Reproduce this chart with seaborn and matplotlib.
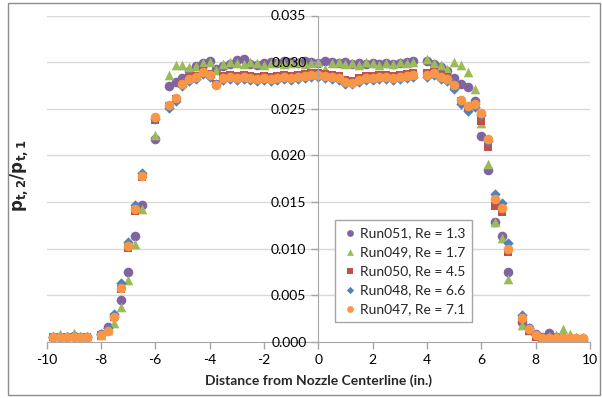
import numpy as np
import pandas as pd
import matplotlib
matplotlib.use('Agg')
import matplotlib.pyplot as plt
import seaborn as sns
from matplotlib.patches import Rectangle

sns.set_style('white')
plt.rcParams['font.family'] = ['Lato', 'DejaVu Sans']

## data
x = [-9.75, -9.5, -9.25, -9.0, -8.75, -8.5,
     -8.0, -7.75, -7.5, -7.25, -7.0, -6.75, -6.5,
     -6.0,
     -5.5, -5.25, -5.0, -4.75, -4.5, -4.25, -4.0, -3.75,
     -3.5, -3.25, -3.0, -2.75, -2.5, -2.25, -2.0, -1.75, -1.5, -1.25, -1.0, -0.75, -0.5, -0.25,
     0.0, 0.25, 0.5, 0.75, 1.0, 1.25, 1.5, 1.75, 2.0, 2.25, 2.5, 2.75, 3.0, 3.25, 3.5,
     4.0, 4.25, 4.5, 4.75, 5.0, 5.25, 5.5, 5.75, 6.0, 6.25, 6.5, 6.75, 7.0,
     7.5, 7.75, 8.0, 8.25, 8.5, 8.75, 9.0, 9.25, 9.5, 9.75]

run051 = [0.0005, 0.0005, 0.0005, 0.0006, 0.0005, 0.0005,
          0.0008, 0.0016, 0.0028, 0.0045, 0.0075, 0.0113, 0.0147,
          0.0217,
          0.0274, 0.0279, 0.0283, 0.0290, 0.0296, 0.0299, 0.0301, 0.0293,
          0.0296, 0.0298, 0.0302, 0.0303, 0.0298, 0.0297, 0.0299, 0.0300, 0.0299, 0.0301, 0.0300, 0.0299, 0.0301, 0.0300,
          0.0299, 0.0301, 0.0300, 0.0299, 0.0300, 0.0298, 0.0299, 0.0298, 0.0299, 0.0298, 0.0299, 0.0298, 0.0299, 0.0300, 0.0301,
          0.0301, 0.0298, 0.0295, 0.0290, 0.0283, 0.0276, 0.0273, 0.0258, 0.0221, 0.0184, 0.0128, 0.0113, 0.0075,
          0.0021, 0.0015, 0.0008, 0.0005, 0.0009, 0.0005, 0.0004, 0.0004, 0.0003, 0.0001]

run049 = [0.0006, 0.0008, 0.0006, 0.0009, 0.0006, 0.0006,
          0.0007, 0.0013, 0.0020, 0.0037, 0.0066, 0.0105, 0.0142,
          0.0222,
          0.0286, 0.0297, 0.0297, 0.0295, 0.0296, 0.0299, 0.0300, 0.0291,
          0.0298, 0.0300, 0.0299, 0.0298, 0.0300, 0.0299, 0.0297, 0.0299, 0.0300, 0.0298, 0.0299, 0.0300, 0.0298, 0.0299,
          0.0300, 0.0293, 0.0299, 0.0300, 0.0298, 0.0299, 0.0297, 0.0300, 0.0299, 0.0297, 0.0299, 0.0298, 0.0300, 0.0299, 0.0300,
          0.0303, 0.0299, 0.0297, 0.0293, 0.0300, 0.0297, 0.0289, 0.0271, 0.0235, 0.0191, 0.0128, 0.0111, 0.0067,
          0.0018, 0.0013, 0.0007, 0.0005, 0.0006, 0.0007, 0.0014, 0.0008, 0.0005, 0.0004]

run050 = [0.0005, 0.0005, 0.0005, 0.0005, 0.0005, 0.0005,
          0.0007, 0.0013, 0.0026, 0.0057, 0.0101, 0.0140, 0.0177,
          0.0238,
          0.0253, 0.0260, 0.0276, 0.0283, 0.0285, 0.0290, 0.0287, 0.0276,
          0.0285, 0.0286, 0.0285, 0.0286, 0.0285, 0.0284, 0.0285, 0.0284, 0.0285, 0.0286, 0.0285, 0.0286, 0.0287, 0.0288,
          0.0288, 0.0287, 0.0286, 0.0285, 0.0281, 0.0280, 0.0283, 0.0285, 0.0285, 0.0286, 0.0286, 0.0285, 0.0286, 0.0287, 0.0288,
          0.0288, 0.0289, 0.0286, 0.0284, 0.0274, 0.0258, 0.0251, 0.0254, 0.0237, 0.0209, 0.0146, 0.0139, 0.0096,
          0.0024, 0.0012, 0.0005, 0.0003, 0.0003, 0.0003, 0.0003, 0.0003, 0.0003, 0.0003]

run048 = [0.0005, 0.0005, 0.0005, 0.0005, 0.0005, 0.0005,
          0.0008, 0.0015, 0.0030, 0.0063, 0.0107, 0.0147, 0.0181,
          0.0239,
          0.0251, 0.0258, 0.0274, 0.0280, 0.0282, 0.0287, 0.0284, 0.0276,
          0.0281, 0.0282, 0.0281, 0.0282, 0.0281, 0.0280, 0.0281, 0.0280, 0.0281, 0.0282, 0.0281, 0.0282, 0.0283, 0.0284,
          0.0284, 0.0283, 0.0282, 0.0281, 0.0277, 0.0276, 0.0279, 0.0281, 0.0281, 0.0282, 0.0282, 0.0281, 0.0282, 0.0283, 0.0284,
          0.0284, 0.0286, 0.0282, 0.0280, 0.0271, 0.0255, 0.0247, 0.0252, 0.0243, 0.0215, 0.0158, 0.0149, 0.0106,
          0.0029, 0.0015, 0.0007, 0.0004, 0.0004, 0.0004, 0.0004, 0.0004, 0.0004, 0.0004]

run047 = [0.0005, 0.0005, 0.0005, 0.0005, 0.0005, 0.0005,
          0.0007, 0.0012, 0.0027, 0.0058, 0.0103, 0.0142, 0.0178,
          0.0241,
          0.0254, 0.0261, 0.0277, 0.0282, 0.0284, 0.0289, 0.0286, 0.0275,
          0.0283, 0.0284, 0.0283, 0.0284, 0.0283, 0.0282, 0.0283, 0.0282, 0.0283, 0.0284, 0.0283, 0.0284, 0.0285, 0.0286,
          0.0286, 0.0285, 0.0284, 0.0283, 0.0279, 0.0278, 0.0281, 0.0283, 0.0283, 0.0284, 0.0284, 0.0283, 0.0284, 0.0285, 0.0286,
          0.0286, 0.0288, 0.0284, 0.0282, 0.0275, 0.0259, 0.0253, 0.0255, 0.0245, 0.0218, 0.0153, 0.0143, 0.0100,
          0.0025, 0.0014, 0.0007, 0.0004, 0.0004, 0.0004, 0.0004, 0.0004, 0.0004, 0.0004]

labels = ['Run051, Re = 1.3', 'Run049, Re = 1.7', 'Run050, Re = 4.5',
          'Run048, Re = 6.6', 'Run047, Re = 7.1']
colors = ['#8064A2', '#9BBB59', '#C0504D', '#4F81BD', '#F79646']
markers = ['o', '^', 's', 'D', 'o']
sizes = [48, 48, 40, 28, 48]

x_ticks = [-10, -8, -6, -4, -2, 0, 2, 4, 6, 8, 10]
y_ticks = [0.0, 0.005, 0.010, 0.015, 0.020, 0.025, 0.030, 0.035]

series = [run051, run049, run050, run048, run047]

fig = plt.figure(figsize=(6.02, 3.98), dpi=100)
ax = fig.add_axes([46.5 / 602, 1 - 341.7 / 398, (590 - 46.5) / 602, (341.7 - 15.5) / 398])

# gridlines under the markers, axis labels above them
for yt in y_ticks[1:]:
    ax.axhline(yt, color='#D9D9D9', linewidth=1, zorder=1)

for yv, lab, c, m, s in zip(series, labels, colors, markers, sizes):
    sns.scatterplot(x=x, y=yv, ax=ax, color=c, marker=m, s=s, linewidth=0,
                    label=lab, zorder=2)

ax.set_axisbelow(False)
ax.set_xlim(-10, 10)
ax.set_ylim(0, 0.035)
ax.set_xticks(x_ticks)
ax.set_yticks(y_ticks)
ax.set_xticklabels([str(t) for t in x_ticks])
ax.set_yticklabels(['%.3f' % t for t in y_ticks])

ax.grid(False)
for side in ['top', 'right']:
    ax.spines[side].set_visible(False)
ax.spines['left'].set_position(('data', 0))
ax.spines['left'].set_color('#A6A6A6')
ax.spines['bottom'].set_color('#A6A6A6')
ax.tick_params(axis='both', colors='#A6A6A6', labelcolor='black', labelsize=10,
               length=5, width=1, direction='out')
ax.tick_params(axis='x', bottom=True)
ax.tick_params(axis='y', left=True)

ax.set_xlabel('Distance from Nozzle Centerline (in.)', fontsize=10, fontweight='bold')
ax.set_ylabel(r'$\mathbf{p_{t,2}/p_{t,1}}$', fontsize=12)
ax.yaxis.set_label_coords(-0.03, 0.51)
ax.xaxis.set_label_coords(0.5, -0.1)

leg = ax.legend(loc='upper left', bbox_to_anchor=(328 / 602, 1 - 213 / 398),
                bbox_transform=fig.transFigure, fontsize=10, frameon=True,
                fancybox=False, framealpha=1, edgecolor='#A6A6A6',
                markerscale=0.7, handletextpad=0.1, handlelength=1.2,
                borderpad=0.5, labelspacing=0.5)
leg.get_frame().set_linewidth(1)
leg.set_zorder(6)

fig.patches.append(Rectangle((8 / 602, 3 / 398), 592 / 602, 392 / 398,
                             transform=fig.transFigure, fill=False,
                             edgecolor='#8C8C8C', linewidth=1))

fig.savefig('out.png', dpi=100)
